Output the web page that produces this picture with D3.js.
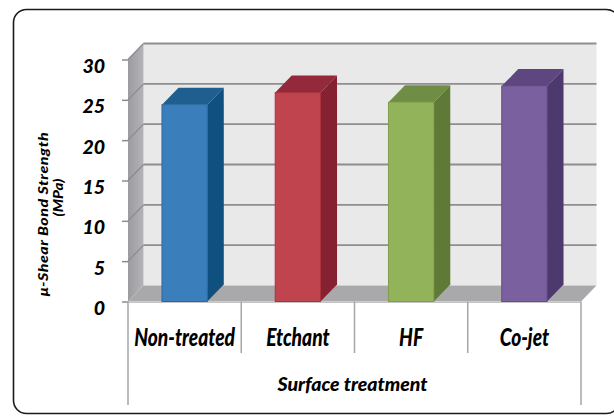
<!DOCTYPE html>
<html>
<head>
<meta charset="utf-8">
<script src="https://cdn.jsdelivr.net/npm/d3@7"></script>
<style>
  html, body { margin: 0; padding: 0; background: #ffffff; }
  svg { display: block; }
  .lbl { font-family: Lato, "Liberation Sans", Arial, sans-serif; font-weight: 900; font-style: italic; fill: #000; }
</style>
</head>
<body>
<svg id="chart" width="614" height="417"></svg>
<script>
// Micro-shear bond strength by surface treatment
const categories = ["Non-treated", "Etchant", "HF", "Co-jet"];
const strength = [24.4, 25.9, 24.7, 26.7];
const yTicks = [0, 5, 10, 15, 20, 25, 30];
const yTitle = ["\u03bc-Shear Bond Strength", "(MPa)"];
const xTitle = "Surface treatment";

const faceColors = [
  { front: "#3a7fbc", top: "#1f5f8f", side: "#0f5080", edge: "#2a6aa0" },
  { front: "#c0444e", top: "#93293a", side: "#862131", edge: "#a8323d" },
  { front: "#93b35a", top: "#6f8d45", side: "#5f7a37", edge: "#7f9e4a" },
  { front: "#7b60a0", top: "#5e4681", side: "#4d396e", edge: "#684f8c" }
];

const svg = d3.select("#chart");

// oblique depth of the 3D box
const dx = 15.5, dy = 16;
const barDx = 16.5, barDy = 17;

const plotLeft = 128, plotRight = 581;
const y = d3.scaleLinear().domain([0, 30]).range([301.5, 59.5]);
const x = d3.scaleBand().domain(categories).range([plotLeft, plotRight]).paddingInner(0).paddingOuter(0);
const barW = x.bandwidth() * 0.4;

// outer frame
svg.append("rect")
  .attr("x", 13.5).attr("y", 9.5).attr("width", 606).attr("height", 404)
  .attr("rx", 13).attr("ry", 13)
  .attr("fill", "none").attr("stroke", "#1a1a1a").attr("stroke-width", 1.6);

const y0 = y(0), yTop = y(30);

// back wall
svg.append("rect")
  .attr("x", plotLeft + dx).attr("y", yTop - dy)
  .attr("width", plotRight - plotLeft).attr("height", y0 - yTop)
  .attr("fill", "#e9e9e9");

// left side wall
const sideGrad = svg.append("defs").append("linearGradient")
  .attr("id", "wallGrad").attr("x1", "0").attr("x2", "1").attr("y1", "0").attr("y2", "0");
sideGrad.append("stop").attr("offset", "0").attr("stop-color", "#9c9ca0");
sideGrad.append("stop").attr("offset", "1").attr("stop-color", "#b4b4b8");
svg.append("path")
  .attr("d", d3.line()([[plotLeft, yTop], [plotLeft + dx, yTop - dy], [plotLeft + dx, y0 - dy], [plotLeft, y0]]) + "Z")
  .attr("fill", "url(#wallGrad)");

// floor
svg.append("path")
  .attr("d", d3.line()([[plotLeft, y0], [plotLeft + dx, y0 - dy], [plotRight + dx, y0 - dy], [plotRight, y0]]) + "Z")
  .attr("fill", "#a9a9ab");
svg.append("line")
  .attr("x1", plotLeft).attr("x2", plotRight).attr("y1", y0 + 0.8).attr("y2", y0 + 0.8)
  .attr("stroke", "#c4c4c4").attr("stroke-width", 1.6);

// gridlines on back wall and side wall
const grid = svg.append("g");
yTicks.filter(t => t > 0).forEach(t => {
  const gy = y(t);
  grid.append("line")
    .attr("x1", plotLeft + dx).attr("x2", plotRight + dx)
    .attr("y1", gy - dy).attr("y2", gy - dy)
    .attr("stroke", "#8e8e8e").attr("stroke-width", 1.8);
  grid.append("line")
    .attr("x1", plotLeft).attr("x2", plotLeft + dx)
    .attr("y1", gy).attr("y2", gy - dy)
    .attr("stroke", "#8a8a8e").attr("stroke-width", 1.2);
});

// y axis with ticks and labels
const yAxis = d3.axisLeft(y).tickValues(yTicks).tickSize(6).tickPadding(0).tickFormat(d3.format("d"));
const yg = svg.append("g").attr("transform", `translate(${plotLeft},0)`).call(yAxis);
yg.select(".domain").remove();
yg.selectAll(".tick line").attr("stroke", "#8c8c8c").attr("stroke-width", 1.5);
yg.selectAll(".tick text")
  .attr("class", "lbl")
  .attr("x", -23).attr("dy", "0.82em").attr("y", -3)
  .style("font-size", "19.5px").attr("text-anchor", "end");

// bars as 3D boxes
const bars = svg.append("g");
categories.forEach((c, i) => {
  const v = strength[i];
  const bx0 = x(c) + (x.bandwidth() - barW) / 2, bx1 = bx0 + barW;
  const by = y(v);
  const col = faceColors[i];
  // side face
  bars.append("path")
    .attr("d", d3.line()([[bx1, by], [bx1 + barDx, by - barDy], [bx1 + barDx, y0 - barDy], [bx1, y0]]) + "Z")
    .attr("fill", col.side);
  // top face
  bars.append("path")
    .attr("d", d3.line()([[bx0, by], [bx0 + barDx, by - barDy], [bx1 + barDx, by - barDy], [bx1, by]]) + "Z")
    .attr("fill", col.top);
  // front face
  bars.append("rect")
    .attr("x", bx0).attr("y", by).attr("width", barW).attr("height", y0 - by)
    .attr("fill", col.front).attr("stroke", col.edge).attr("stroke-width", 1);
});

// category axis frame
const catG = svg.append("g");
const dividers = categories.map(c => x(c)).concat([plotRight]);
dividers.forEach((d, i) => {
  const outer = (i === 0 || i === dividers.length - 1);
  catG.append("line")
    .attr("x1", d).attr("x2", d)
    .attr("y1", y0).attr("y2", outer ? 405 : 353)
    .attr("stroke", "#a6a6a6").attr("stroke-width", 1.5);
});

// category labels, condensed
categories.forEach(c => {
  const cx = x(c) + x.bandwidth() / 2;
  catG.append("text")
    .attr("class", "lbl")
    .attr("text-anchor", "middle")
    .attr("transform", `translate(${cx},345.5) scale(0.8,1)`)
    .style("font-size", "24px")
    .text(c);
});

// x axis title
svg.append("text")
  .attr("class", "lbl")
  .attr("x", (plotLeft + plotRight) / 2 - 2).attr("y", 391)
  .attr("text-anchor", "middle")
  .style("font-size", "19.5px")
  .text(xTitle);

// y axis title (two lines), stretched along the reading direction
svg.append("text")
  .attr("class", "lbl")
  .attr("transform", "translate(47.5,214) rotate(-90) scale(1.14,1)")
  .attr("text-anchor", "middle")
  .style("font-size", "14px")
  .style("letter-spacing", "0.45px")
  .text(yTitle[0]);
svg.append("text")
  .attr("class", "lbl")
  .attr("transform", "translate(62.5,197.5) rotate(-90) scale(1.08,1)")
  .attr("text-anchor", "middle")
  .style("font-size", "14px")
  .text(yTitle[1]);
</script>
</body>
</html>
